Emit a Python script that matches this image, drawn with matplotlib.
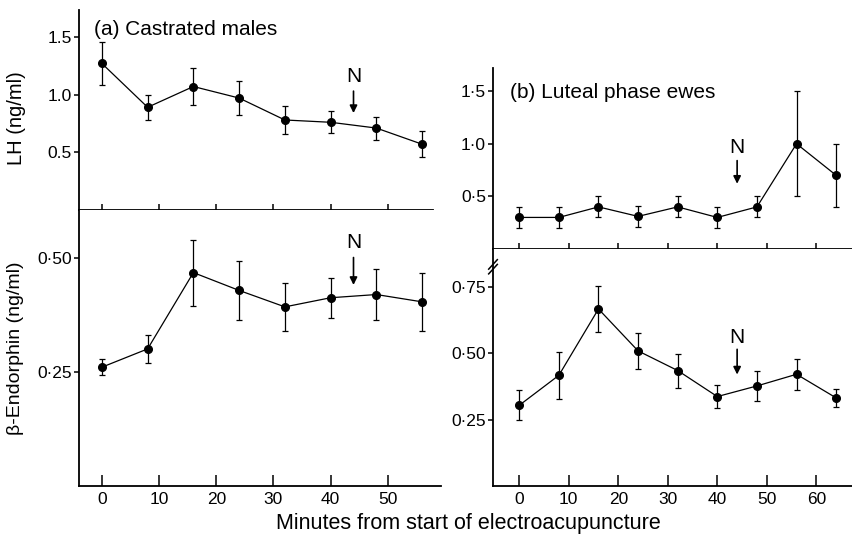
import numpy as np
import matplotlib
matplotlib.use('Agg')
import matplotlib.pyplot as plt

plt.rcParams['font.family'] = ['Liberation Sans', 'DejaVu Sans']

# (a) castrated males
minutes_males = [0, 8, 16, 24, 32, 40, 48, 56]
lh_males = [1.27, 0.89, 1.07, 0.97, 0.78, 0.76, 0.71, 0.57]
lh_males_err = [0.19, 0.11, 0.16, 0.15, 0.12, 0.095, 0.10, 0.115]
bend_males = [0.260, 0.300, 0.467, 0.428, 0.392, 0.412, 0.419, 0.403]
bend_males_err = [0.017, 0.030, 0.072, 0.065, 0.053, 0.044, 0.055, 0.063]

# (b) luteal phase ewes
minutes_ewes = [0, 8, 16, 24, 32, 40, 48, 56, 64]
lh_ewes = [0.30, 0.30, 0.40, 0.31, 0.40, 0.30, 0.40, 1.00, 0.70]
lh_ewes_err = [0.10, 0.10, 0.10, 0.10, 0.10, 0.10, 0.10, 0.50, 0.30]
bend_ewes = [0.304, 0.417, 0.667, 0.509, 0.435, 0.337, 0.377, 0.421, 0.332]
bend_ewes_err = [0.056, 0.088, 0.087, 0.068, 0.064, 0.044, 0.058, 0.058, 0.035]

lh_a_ticks = [0.5, 1.0, 1.5]
lh_a_labels = ['0.5', '1.0', '1.5']
be_a_ticks = [0.25, 0.50]
be_a_labels = ['0\u00b725', '0\u00b750']
lh_b_ticks = [0.5, 1.0, 1.5]
lh_b_labels = ['0\u00b75', '1\u00b70', '1\u00b75']
be_b_ticks = [0.25, 0.50, 0.75]
be_b_labels = ['0\u00b725', '0\u00b750', '0\u00b775']

W, H = 853, 541
fig = plt.figure(figsize=(W / 100, H / 100), dpi=100)


def add_ax(x0, y0, x1, y1):
    # pixel box (from top-left) -> figure fraction
    return fig.add_axes([x0 / W, 1 - y1 / H, (x1 - x0) / W, (y1 - y0) / H])


def style(ax, tickdir, ticklen):
    for s in ['top', 'right']:
        ax.spines[s].set_visible(False)
    for s in ['left', 'bottom']:
        ax.spines[s].set_linewidth(1.3)
    ax.tick_params(axis='x', direction=tickdir, length=ticklen, width=1.1, labelsize=12.5, pad=4)
    ax.tick_params(axis='y', direction='out', length=3.5, width=1.1, labelsize=12.5, pad=1.5)


def series(ax, x, y, e):
    ax.errorbar(x, y, yerr=e, color='black', lw=0.9, elinewidth=0.9, capsize=2.5,
                capthick=0.9, marker='o', markersize=5.5)


def nmark(ax, x, ytext, ytail, ytip):
    ax.text(x, ytext, 'N', ha='center', va='center', fontsize=15)
    ax.annotate('', xy=(x, ytip), xytext=(x, ytail),
                arrowprops=dict(arrowstyle='-|>', color='black', lw=1.2, mutation_scale=11,
                                shrinkA=0, shrinkB=0))


def px(x, y):
    return x / W, 1 - y / H


# left column
ax1 = add_ax(79, 10, 433, 210)
series(ax1, minutes_males, lh_males, lh_males_err)
ax1.set_xlim(-4.0, 57.9)
ax1.set_ylim(0, 1.733)
ax1.set_xticks(np.arange(0, 51, 10))
ax1.set_xticklabels([])
ax1.set_yticks(lh_a_ticks)
ax1.set_yticklabels(lh_a_labels)
style(ax1, 'inout', 8)
ax1.text(-1.3, 1.56, '(a) Castrated males', fontsize=15, va='center')
nmark(ax1, 44, 1.16, 1.03, 0.84)

ax2 = add_ax(79, 210, 441, 486)
series(ax2, minutes_males, bend_males, bend_males_err)
ax2.set_xlim(-4.0, 59.3)
ax2.set_ylim(0, 0.604)
ax2.set_xticks(np.arange(0, 51, 10))
ax2.set_yticks(be_a_ticks)
ax2.set_yticklabels(be_a_labels)
style(ax2, 'in', 8)
nmark(ax2, 44, 0.533, 0.50, 0.44)

fig.text(*px(17, 118), 'LH (ng/ml)', rotation=90, ha='center', va='center', fontsize=14.5)
fig.text(*px(16, 348), '\u03b2-Endorphin (ng/ml)', rotation=90, ha='center', va='center',
         fontsize=14)

# right column
ax3 = add_ax(493, 68, 853, 249)
series(ax3, minutes_ewes, lh_ewes, lh_ewes_err)
ax3.set_xlim(-5.3, 67.4)
ax3.set_ylim(0, 1.72)
ax3.set_xticks(np.arange(0, 61, 10))
ax3.set_xticklabels([])
ax3.set_yticks(lh_b_ticks)
ax3.set_yticklabels(lh_b_labels)
style(ax3, 'inout', 8)
ax3.text(-1.8, 1.49, '(b) Luteal phase ewes', fontsize=15, va='center')
nmark(ax3, 44, 0.96, 0.84, 0.62)

ax4 = add_ax(493, 249, 853, 486)
series(ax4, minutes_ewes, bend_ewes, bend_ewes_err)
ax4.set_xlim(-5.3, 67.4)
ax4.set_ylim(0, 0.893)
ax4.set_xticks(np.arange(0, 61, 10))
ax4.set_yticks(be_b_ticks)
ax4.set_yticklabels(be_b_labels)
style(ax4, 'in', 8)
nmark(ax4, 44, 0.56, 0.515, 0.42)

# axis break marks on the right spine
for off in (0.0, -0.02):
    ax4.plot([-0.012, 0.012], [0.915 + off, 0.955 + off], transform=ax4.transAxes,
             color='black', lw=1.1, clip_on=False)

fig.text(*px(468, 523), 'Minutes from start of electroacupuncture',
         ha='center', va='center', fontsize=15.5)

fig.savefig('out.png', dpi=100)
